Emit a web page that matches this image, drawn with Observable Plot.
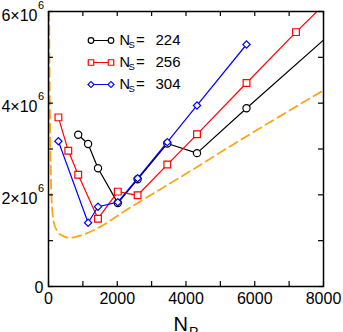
<!DOCTYPE html>
<html>
<head>
<meta charset="utf-8">
<script src="https://cdn.jsdelivr.net/npm/d3@7"></script>
<script src="https://cdn.jsdelivr.net/npm/@observablehq/plot@0.6"></script>
<style>
  html, body { margin: 0; padding: 0; background: #fff; }
  #chart { width: 343px; height: 332px; }
</style>
</head>
<body>
<div id="chart"></div>
<script>
// ---------- data ----------
const np224 = [864, 1152, 1440, 2016, 2592, 3456, 4320, 5760, 8640];
const t224  = [3.31e6, 3.11e6, 2.58e6, 1.82e6, 2.34e6, 3.12e6, 2.91e6, 3.89e6, 5.80e6];

const np256 = [288, 576, 864, 1440, 2016, 2592, 3456, 4320, 5760, 7200, 8640];
const t256  = [3.69e6, 2.96e6, 2.44e6, 1.48e6, 2.07e6, 1.99e6, 2.66e6, 3.32e6, 4.44e6, 5.55e6, 6.61e6];

const np304 = [288, 1152, 1440, 2016, 2592, 3456, 4320, 5760];
const t304  = [3.17e6, 1.39e6, 1.74e6, 1.84e6, 2.36e6, 3.15e6, 3.95e6, 5.28e6];

// dashed model curve, points read along it
const npModel = [20, 35, 50, 79, 145, 244, 400, 630, 920, 1500, 2182, 4000, 5527, 8000];
const tModel  = [6.0e6, 4.3e6, 3.3e6, 2.1e6, 1.43e6, 1.22e6, 1.11e6, 1.06e6, 1.11e6, 1.30e6, 1.63e6, 2.46e6, 3.17e6, 4.28e6];

const seriesNames = ["224", "256", "304"];
const xTickVals = [0, 1000, 2000, 3000, 4000, 5000, 6000, 7000, 8000];
const xLabelVals = [0, 2000, 4000, 6000, 8000];
const yTickVals = [0, 1e6, 2e6, 3e6, 4e6, 5e6, 6e6];
const yLabelVals = [2e6, 4e6, 6e6];

// ---------- layout ----------
const W = 343, H = 332;
const mL = 48, mR = 20, mT = 11, mB = 46;
const xDom = [0, 8000], yDom = [0, 6e6];
const font = "'Liberation Sans', Arial, Helvetica, sans-serif";
const tickLen = 5;

const toRows = (xs, ys) => xs.map((x, i) => ({x, y: ys[i]}));
const s224 = toRows(np224, t224);
const s256 = toRows(np256, t256);
const s304 = toRows(np304, t304);
const model = toRows(npModel, tModel);

// pixel -> data helpers (legend placement and tick lengths)
const xInv = px => xDom[0] + (px - mL) / (W - mL - mR) * (xDom[1] - xDom[0]);
const yInv = py => yDom[0] + (H - mB - py) / (H - mT - mB) * (yDom[1] - yDom[0]);

const styles = [
  {color: "black", symbol: "circle", r: 3.6, lr: 2.8, rotate: 0},
  {color: "#ff0000", symbol: "square", r: 3.8, lr: 3.1, rotate: 0},
  {color: "#0000ff", symbol: "square", r: 2.9, lr: 2.4, rotate: 45}
];
const data = [s224, s256, s304];

const marks = [];
// model curve
marks.push(Plot.line(model, {x: "x", y: "y", stroke: "#ffa51a", strokeWidth: 1.8,
  strokeDasharray: "9,5", curve: "monotone-x", clip: true}));

// series
data.forEach((rows, i) => {
  const st = styles[i];
  marks.push(Plot.line(rows, {x: "x", y: "y", stroke: st.color, strokeWidth: 1.2, clip: true}));
  marks.push(Plot.dot(rows, {x: "x", y: "y", symbol: st.symbol, r: st.r, rotate: st.rotate,
    stroke: st.color, fill: "white", strokeWidth: 1.2, clip: true}));
});

// legend
const lx1 = xInv(90.5), lx2 = xInv(110.5);
const rowPy = [40, 62, 84];
seriesNames.forEach((name, i) => {
  const st = styles[i];
  const y = yInv(rowPy[i]);
  const seg = [{x: lx1, y}, {x: lx2, y}];
  marks.push(Plot.line(seg, {x: "x", y: "y", stroke: st.color, strokeWidth: 1.2}));
  marks.push(Plot.dot(seg, {x: "x", y: "y", symbol: st.symbol, r: st.lr, rotate: st.rotate,
    stroke: st.color, fill: "white", strokeWidth: 1.2}));
  marks.push(Plot.text([{x: lx2, y}], {x: "x", y: "y", text: () => "N", textAnchor: "start",
    lineAnchor: "bottom", dx: 8.5, dy: 4.5, fontSize: 14.5}));
  marks.push(Plot.text([{x: lx2, y}], {x: "x", y: "y", text: () => "S", textAnchor: "start",
    lineAnchor: "bottom", dx: 17.5, dy: 7, fontSize: 9.5}));
  marks.push(Plot.text([{x: lx2, y}], {x: "x", y: "y", text: () => "=", textAnchor: "start",
    lineAnchor: "bottom", dx: 25, dy: 4.5, fontSize: 15}));
  marks.push(Plot.text([{x: lx2, y}], {x: "x", y: "y", text: () => name, textAnchor: "start",
    lineAnchor: "bottom", dx: 44.5, dy: 4.5, fontSize: 15, letterSpacing: "0.8px"}));
});

// inward ticks on all four sides
marks.push(Plot.ruleX(xTickVals, {x: d => d, y1: yDom[0], y2: yInv(H - mB - tickLen), stroke: "black", strokeWidth: 1.2}));
marks.push(Plot.ruleX(xTickVals, {x: d => d, y1: yDom[1], y2: yInv(mT + tickLen), stroke: "black", strokeWidth: 1.2}));
marks.push(Plot.ruleY(yTickVals, {y: d => d, x1: xDom[0], x2: xInv(mL + tickLen), stroke: "black", strokeWidth: 1.2}));
marks.push(Plot.ruleY(yTickVals, {y: d => d, x1: xDom[1], x2: xInv(W - mR - tickLen), stroke: "black", strokeWidth: 1.2}));
marks.push(Plot.frame({stroke: "black", strokeWidth: 1.5}));

// tick labels
marks.push(Plot.text(xLabelVals, {x: d => d, frameAnchor: "bottom", lineAnchor: "bottom",
  dy: 17.5, fontSize: 16, text: d => String(d)}));
marks.push(Plot.text(yLabelVals, {y: d => d, frameAnchor: "left", textAnchor: "end", lineAnchor: "bottom",
  dx: -11, dy: 9, fontSize: 16, text: d => `${d / 1e6}×10`}));
marks.push(Plot.text(yLabelVals, {y: d => d, frameAnchor: "left", textAnchor: "start", lineAnchor: "bottom",
  dx: -10.5, dy: -3, fontSize: 11, text: () => "6"}));
marks.push(Plot.text([0], {y: d => d, frameAnchor: "left", textAnchor: "end", lineAnchor: "bottom",
  dx: -5, dy: 6, fontSize: 16, text: () => "0"}));

// axis title N_P
marks.push(Plot.text([0], {frameAnchor: "bottom", textAnchor: "start", lineAnchor: "bottom",
  dx: -12.5, dy: 44, fontSize: 20, text: () => "N"}));
marks.push(Plot.text([0], {frameAnchor: "bottom", textAnchor: "start", lineAnchor: "bottom",
  dx: 3, dy: 50, fontSize: 14, text: () => "P"}));

const plot = Plot.plot({
  width: W, height: H,
  marginLeft: mL, marginRight: mR, marginTop: mT, marginBottom: mB,
  x: {domain: xDom, axis: null},
  y: {domain: yDom, axis: null},
  style: {fontFamily: font, background: "white", color: "black", overflow: "visible"},
  marks
});
document.getElementById("chart").appendChild(plot);
</script>
</body>
</html>
